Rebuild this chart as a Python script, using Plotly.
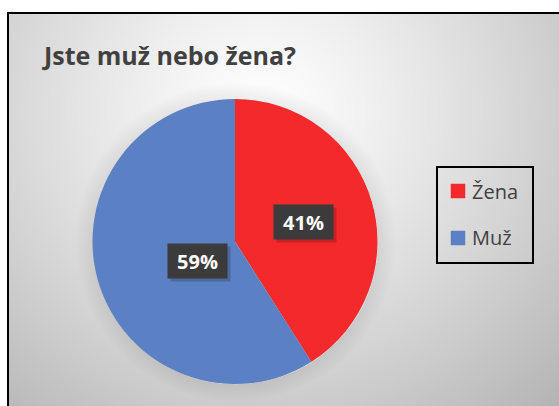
import base64
import struct
import zlib

import numpy as np
import plotly.graph_objects as go

# ---------------- data ----------------
categories = ["Žena", "Muž"]
values = [41, 59]
slice_colors = ["#f3292b", "#5b80c3"]
title_text = "Jste muž nebo žena?"

# ---------------- geometry (pixels) ----------------
W, H = 559, 406
CX, CY, R = 235, 241.5, 142.5
FONT = "Open Sans"


def px(x):
    return x / W


def py(y):
    return 1 - y / H


# ---------------- background image (gradient + frame) ----------------
def gray_png_uri(arr):
    h, w = arr.shape
    raw = b"".join(b"\x00" + arr[i].tobytes() for i in range(h))

    def chunk(tag, data):
        c = struct.pack(">I", len(data)) + tag + data
        return c + struct.pack(">I", zlib.crc32(tag + data) & 0xFFFFFFFF)

    png = b"\x89PNG\r\n\x1a\n"
    png += chunk(b"IHDR", struct.pack(">IIBBBBB", w, h, 8, 0, 0, 0, 0))
    png += chunk(b"IDAT", zlib.compress(raw, 9))
    png += chunk(b"IEND", b"")
    return "data:image/png;base64," + base64.b64encode(png).decode()


yy, xx = np.mgrid[0:H, 0:W].astype(float)
d = np.hypot(xx - 260, (yy - 110) * 1.05)
v = 255 - 0.052 * d ** 1.2
rr = np.hypot(xx - CX, yy - CY)
v -= np.clip(1 - (rr - R) / 18, 0, 1) * (rr > R) * 16
v = np.clip(v, 0, 255)
v[:12, :] = 255
v[:, :7] = 255
v[12:14, 7:] = 0
v[12:, 7:9] = 0
bg_uri = gray_png_uri(v.astype(np.uint8))

# ---------------- figure ----------------
fig = go.Figure()
fig.add_trace(
    go.Pie(
        labels=categories,
        values=values,
        sort=False,
        direction="clockwise",
        rotation=0,
        marker=dict(colors=slice_colors, line=dict(width=0)),
        textinfo="none",
        hoverinfo="skip",
        showlegend=False,
        domain=dict(x=[px(CX - R), px(CX + R)], y=[py(CY + R), py(CY - R)]),
    )
)

annotations = []
shapes = []

# percentage labels in dark boxes
total = sum(values)
cum = 0
for lab, val in zip(categories, values):
    frac = val / total
    mid = 2 * np.pi * (cum + frac / 2)
    cum += frac
    lx = CX + 0.5 * R * np.sin(mid)
    ly = CY - 0.5 * R * np.cos(mid)
    txt = f"{round(100 * frac)}%"
    # shadow
    annotations.append(dict(
        x=px(lx), y=py(ly), xref="paper", yref="paper", text=" ",
        showarrow=False, width=59, height=34, bgcolor="rgba(0,0,0,0.18)",
        xshift=3, yshift=-3, borderpad=0,
    ))
    annotations.append(dict(
        x=px(lx), y=py(ly), xref="paper", yref="paper", text=txt,
        showarrow=False, width=59, height=34, bgcolor="#3b3b3b", borderpad=0,
        font=dict(family=FONT, size=20, color="white", weight="bold"),
    ))

# title
annotations.append(dict(
    x=px(40), y=py(55), xref="paper", yref="paper", text=title_text,
    showarrow=False, xanchor="left", yanchor="middle",
    font=dict(family=FONT, size=25, color="#404040", weight="bold"),
))

# legend (manual)
shapes.append(dict(
    type="rect", xref="paper", yref="paper",
    x0=px(437), x1=px(533), y0=py(263), y1=py(167),
    line=dict(color="black", width=2), fillcolor="rgba(0,0,0,0)",
))
for i, (lab, col) in enumerate(zip(categories, slice_colors)):
    yc = 191 + i * 47
    shapes.append(dict(
        type="rect", xref="paper", yref="paper",
        x0=px(451), x1=px(465), y0=py(yc + 7), y1=py(yc - 7),
        line=dict(color=col, width=0.5), fillcolor=col,
    ))
    annotations.append(dict(
        x=px(470), y=py(yc), xref="paper", yref="paper", text=lab,
        showarrow=False, xanchor="left", yanchor="middle",
        font=dict(family=FONT, size=20, color="#404040"),
    ))

fig.update_layout(
    width=W, height=H,
    margin=dict(l=0, r=0, t=0, b=0),
    paper_bgcolor="white",
    plot_bgcolor="white",
    showlegend=False,
    annotations=annotations,
    shapes=shapes,
    images=[dict(
        source=bg_uri, xref="paper", yref="paper", x=0, y=1,
        sizex=1, sizey=1, xanchor="left", yanchor="top",
        sizing="stretch", layer="below",
    )],
)

fig.write_html("out.html")
